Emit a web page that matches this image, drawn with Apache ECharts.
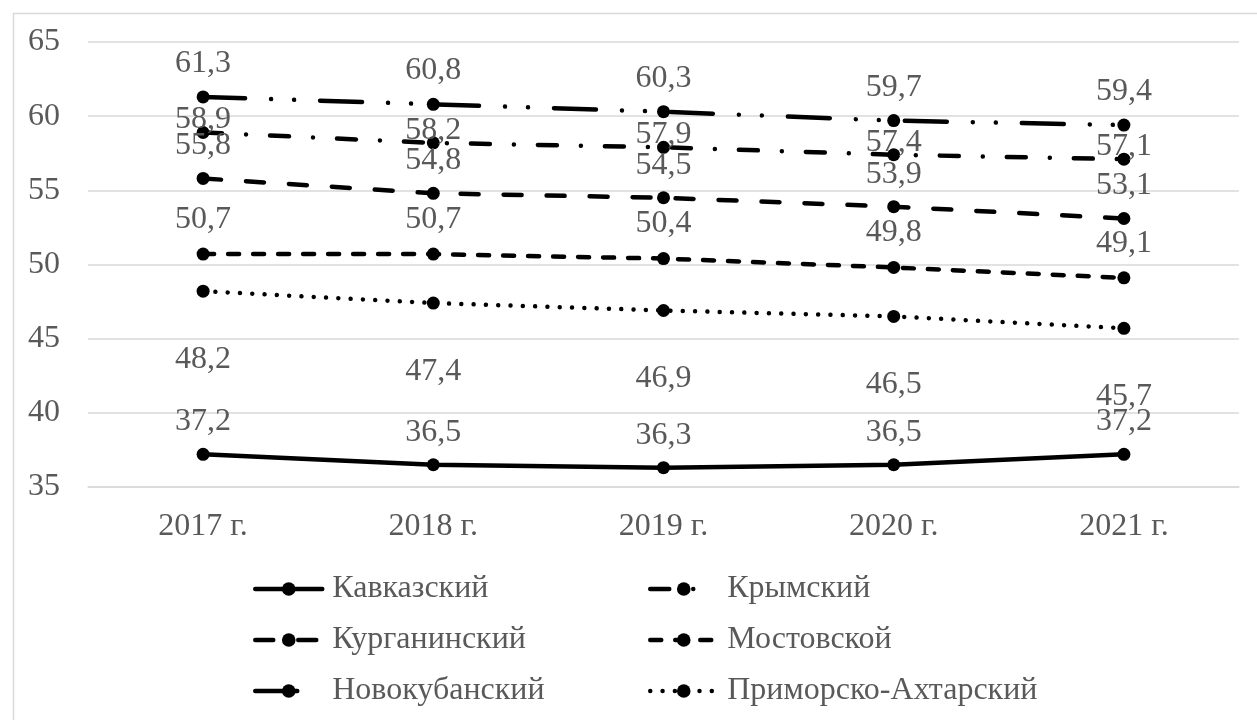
<!DOCTYPE html>
<html>
<head>
<meta charset="utf-8">
<script src="https://cdn.jsdelivr.net/npm/echarts@6/dist/echarts.min.js"></script>
<style>
html,body{margin:0;padding:0;background:#fff;}
#chart{width:1257px;height:720px;}
</style>
</head>
<body>
<div id="chart"></div>
<script>
const categories = ['2017 г.', '2018 г.', '2019 г.', '2020 г.', '2021 г.'];
const yTicks = { min: 35, max: 65, interval: 5 };

const kavkazsky = [37.2, 36.5, 36.3, 36.5, 37.2];
const krymsky = [58.9, 58.2, 57.9, 57.4, 57.1];
const kurganinsky = [55.8, 54.8, 54.5, 53.9, 53.1];
const mostovskoy = [50.7, 50.7, 50.4, 49.8, 49.1];
const novokubansky = [61.3, 60.8, 60.3, 59.7, 59.4];
const primorsko = [48.2, 47.4, 46.9, 46.5, 45.7];

const names = ['Кавказский', 'Крымский', 'Курганинский', 'Мостовской', 'Новокубанский', 'Приморско-Ахтарский'];

const FONT = 'Liberation Serif';
const FS = 32;
const TXT = '#595959';

function dashOf(i) {
  if (i === 0) return 'solid';
  if (i === 1) return [19, 24, 0.01, 24];
  if (i === 2) return [18, 25];
  if (i === 3) return [11, 14];
  if (i === 4) return [42, 26, 0.01, 23, 0.01, 26];
  return [0.01, 12.3];
}

function mk(i, data, pos, dist, off) {
  return {
    name: names[i],
    type: 'line',
    data: data,
    symbol: 'circle',
    symbolSize: 13,
    itemStyle: { color: '#000' },
    lineStyle: { color: '#000', width: 4.5, type: dashOf(i), cap: 'round' },
    label: {
      show: true,
      position: pos,
      distance: dist,
      offset: [0, off],
      color: TXT,
      fontFamily: FONT,
      fontSize: FS,
      formatter: p => String(p.value).replace('.', ',')
    },
    emphasis: { disabled: true },
    animation: false
  };
}

function legItem(i) {
  return {
    name: names[i],
    lineStyle: { color: '#000', width: 4.5, type: dashOf(i), cap: 'round' },
    itemStyle: { color: '#000' }
  };
}

function makeLegend(left, idx) {
  return {
    orient: 'vertical',
    left: left,
    top: 573,
    padding: 0,
    itemWidth: 67,
    itemHeight: 17,
    itemGap: 19,
    textStyle: { color: TXT, fontFamily: FONT, fontSize: FS, padding: [0, 0, 0, 5] },
    data: idx.map(legItem)
  };
}

function build() {
  return {
    animation: false,
    backgroundColor: '#fff',
    graphic: [{
      type: 'rect',
      left: 11, top: 11,
      shape: { width: 1300, height: 800 },
      style: { fill: 'none', stroke: '#d9d9d9', lineWidth: 1.5 },
      silent: true
    }],
    grid: { left: 88, right: 18, top: 42, bottom: 233 },
    xAxis: {
      type: 'category',
      data: categories,
      boundaryGap: true,
      axisLine: { show: true, lineStyle: { color: '#d9d9d9', width: 1.5 } },
      axisTick: { show: false },
      axisLabel: { color: TXT, fontFamily: FONT, fontSize: FS, margin: 24 }
    },
    yAxis: {
      type: 'value',
      min: yTicks.min, max: yTicks.max, interval: yTicks.interval,
      axisLine: { show: false },
      axisTick: { show: false },
      splitLine: { lineStyle: { color: '#d9d9d9', width: 1.5 } },
      axisLabel: { color: TXT, fontFamily: FONT, fontSize: FS, margin: 28 }
    },
    legend: [makeLegend(253, [0, 2, 4]), makeLegend(648, [1, 3, 5])],
    series: [
      mk(0, kavkazsky, 'top', 10, 0),
      mk(1, krymsky, 'top', 0, 10),
      mk(2, kurganinsky, 'top', 10, 0),
      mk(3, mostovskoy, 'top', 12, 0),
      mk(4, novokubansky, 'top', 11, 0),
      mk(5, primorsko, 'bottom', 46, 0)
    ]
  };
}

const chart = echarts.init(document.getElementById('chart'));
chart.setOption(build());
</script>
</body>
</html>
